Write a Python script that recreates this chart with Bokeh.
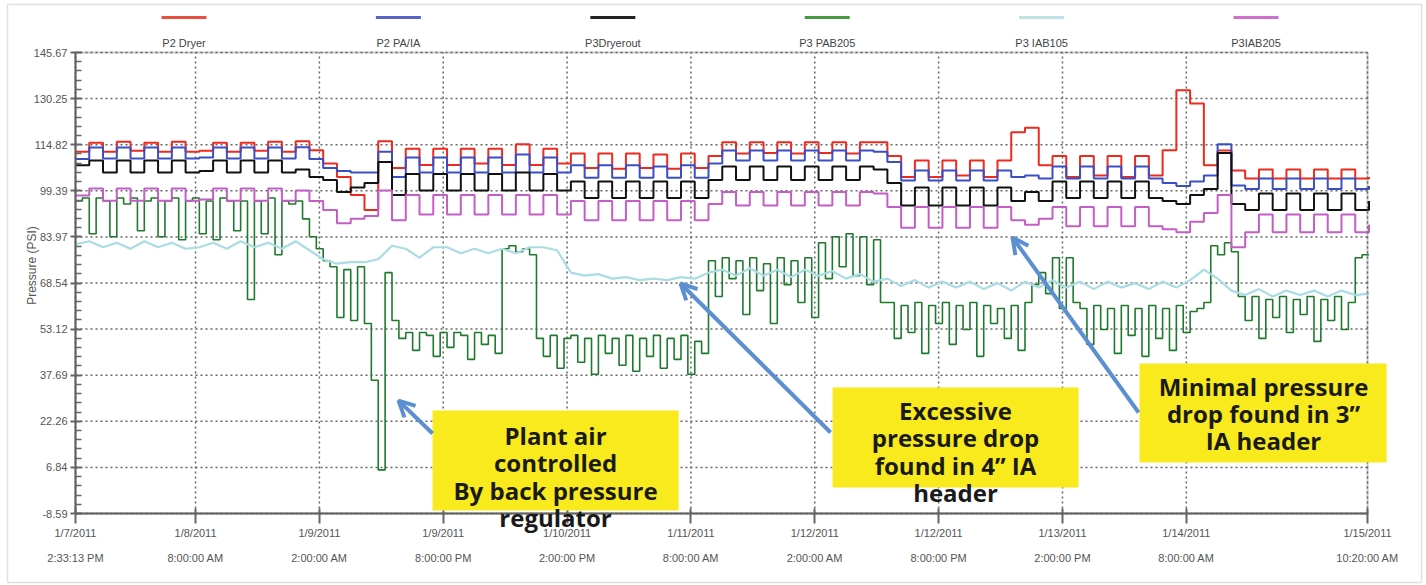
from datetime import datetime
import numpy as np
from bokeh.plotting import figure
from bokeh.models import (Range1d, FixedTicker, PrintfTickFormatter, BoxAnnotation,
                          Label, Arrow, OpenHead)
from bokeh.embed import file_html
from bokeh.resources import INLINE

EPOCH = datetime(1970, 1, 1)


def ms(dt):
    return int(round((dt - EPOCH).total_seconds() * 1000))


START = datetime(2011, 1, 7, 14, 33, 13)
END = datetime(2011, 1, 15, 10, 20, 0)
HOUR = 3600 * 1000
Y_MIN, Y_MAX = -8.59, 145.67

# ---------------- axes ----------------
x_tick_times = [START, datetime(2011, 1, 8, 8), datetime(2011, 1, 9, 2), datetime(2011, 1, 9, 20),
                datetime(2011, 1, 10, 14), datetime(2011, 1, 11, 8), datetime(2011, 1, 12, 2),
                datetime(2011, 1, 12, 20), datetime(2011, 1, 13, 14), datetime(2011, 1, 14, 8), END]
x_tick_labels = ["1/7/2011\n2:33:13 PM", "1/8/2011\n8:00:00 AM", "1/9/2011\n2:00:00 AM",
                 "1/9/2011\n8:00:00 PM", "1/10/2011\n2:00:00 PM", "1/11/2011\n8:00:00 AM",
                 "1/12/2011\n2:00:00 AM", "1/12/2011\n8:00:00 PM", "1/13/2011\n2:00:00 PM",
                 "1/14/2011\n8:00:00 AM", "1/15/2011\n10:20:00 AM"]
y_ticks = [-8.59, 6.84, 22.26, 37.69, 53.12, 68.54, 83.97, 99.39, 114.82, 130.25, 145.67]
y_title = "Pressure (PSI)"

series_names = ["P2 Dryer", "P2 PA/IA", "P3Dryerout", "P3 PAB205", "P3 IAB105", "P3IAB205"]

# ---------------- data (2-hour samples) ----------------
p2_dryer = [112.5, 115.5, 112.5, 115.8, 112.8, 115.5, 112.5, 115.8, 112.5, 112.8,
            115.5, 112.5, 115.5, 112.8, 115.8, 112.5, 116.0, 113.0, 108.5, 104.0,
            98.0, 93.0, 116.0, 107.0, 113.5, 108.0, 113.5, 108.0, 113.5, 108.5,
            113.5, 108.0, 115.0, 108.0, 113.5, 108.5, 111.9, 107.0, 111.9, 106.8,
            111.9, 107.0, 111.5, 106.8, 111.9, 107.0, 111.0, 115.6, 111.9, 115.6,
            112.0, 115.6, 111.9, 115.6, 112.0, 115.6, 111.9, 115.6, 115.6, 111.0,
            104.0, 109.5, 104.0, 109.5, 104.5, 109.5, 104.0, 109.5, 119.0, 120.5,
            107.9, 111.0, 104.0, 111.0, 104.5, 111.0, 104.0, 111.0, 104.5, 113.0,
            133.0, 128.6, 107.9, 112.9, 106.2, 103.5, 106.5, 103.5, 106.5, 103.5,
            106.5, 103.5, 106.5, 103.5, 104.0]
p2_paia = [110.0, 113.9, 110.2, 113.9, 110.2, 113.9, 110.2, 113.9, 110.2, 110.5,
           113.9, 110.2, 113.9, 110.2, 113.9, 110.2, 114.0, 110.0, 107.0, 106.0,
           105.5, 105.5, 112.5, 104.0, 110.5, 105.5, 110.5, 105.5, 110.5, 105.5,
           110.5, 105.5, 111.5, 105.5, 110.5, 105.5, 107.9, 103.8, 107.9, 103.8,
           107.9, 103.8, 107.5, 103.8, 107.9, 103.8, 108.5, 112.9, 109.5, 112.9,
           109.5, 112.9, 109.5, 112.9, 109.5, 112.9, 109.5, 112.9, 112.5, 109.0,
           102.8, 106.2, 102.8, 106.2, 102.8, 106.2, 102.8, 106.2, 104.0, 104.5,
           103.5, 107.5, 103.5, 107.5, 103.5, 107.5, 103.5, 107.5, 103.5, 102.0,
           101.0, 102.5, 104.5, 115.0, 101.2, 100.0, 103.5, 100.0, 103.5, 100.0,
           103.5, 100.0, 103.5, 100.0, 101.0]
p3_dryerout = [107.9, 109.5, 105.5, 109.5, 105.5, 109.5, 105.5, 109.5, 105.5, 106.0,
               109.5, 105.5, 109.5, 105.5, 109.5, 105.5, 106.5, 104.0, 103.0, 99.0,
               100.5, 102.0, 109.0, 98.0, 105.0, 99.5, 105.0, 99.5, 105.0, 99.5,
               105.0, 99.5, 105.5, 99.5, 105.0, 99.5, 102.5, 97.0, 102.5, 97.0,
               102.5, 97.0, 102.5, 97.0, 102.5, 97.0, 103.0, 107.5, 103.0, 107.5,
               103.0, 107.5, 103.0, 107.5, 103.0, 107.5, 103.0, 107.5, 106.5, 102.0,
               94.5, 100.5, 94.5, 100.5, 94.5, 100.5, 94.5, 100.5, 96.0, 99.0,
               96.0, 102.5, 97.0, 102.5, 97.0, 102.5, 97.0, 102.5, 97.0, 96.0,
               95.0, 98.0, 100.0, 112.0, 95.0, 93.0, 98.5, 93.0, 98.5, 93.0,
               98.5, 93.0, 98.5, 93.0, 96.0]
p3_iab205 = [97.8, 100.2, 96.1, 100.2, 96.1, 100.2, 96.1, 100.2, 96.1, 96.5,
             100.2, 96.1, 100.2, 96.1, 100.2, 96.1, 99.5, 96.0, 93.0, 88.5,
             90.0, 91.0, 99.5, 89.5, 98.0, 91.5, 98.0, 91.5, 98.0, 91.5,
             98.0, 91.5, 98.0, 91.5, 98.0, 91.5, 96.0, 89.5, 96.0, 89.5,
             96.0, 89.5, 96.0, 89.5, 96.0, 89.5, 95.0, 99.0, 94.5, 99.0,
             94.5, 99.0, 94.5, 99.0, 94.5, 99.0, 94.5, 99.0, 98.5, 94.0,
             87.0, 94.0, 87.0, 94.0, 87.0, 94.0, 87.0, 94.0, 89.5, 88.0,
             90.0, 94.0, 87.5, 94.0, 87.5, 94.0, 87.5, 94.0, 87.5, 86.5,
             85.5, 89.0, 92.0, 98.0, 80.5, 85.5, 91.5, 85.5, 91.5, 85.5,
             91.5, 85.5, 91.5, 85.5, 88.0]
p3_iab105 = [81.5, 82.5, 80.5, 82.0, 80.0, 82.5, 80.5, 82.0, 80.0, 80.5,
             82.0, 80.0, 82.5, 80.5, 82.0, 80.0, 82.5, 79.5, 76.5, 75.0,
             75.5, 75.5, 76.5, 81.0, 80.0, 77.0, 80.5, 80.5, 78.5, 80.0,
             78.5, 80.0, 78.5, 80.5, 80.5, 79.5, 72.0, 71.0, 71.5, 70.0,
             70.5, 69.5, 70.0, 69.5, 70.5, 70.0, 72.0, 73.0, 71.0, 73.5,
             71.0, 73.0, 70.5, 73.0, 71.0, 72.5, 70.0, 71.5, 69.0, 70.0,
             67.5, 69.5, 67.0, 69.0, 67.0, 69.0, 66.5, 68.5, 66.0, 69.0,
             67.0, 69.5, 67.0, 69.0, 66.5, 69.0, 67.0, 68.5, 66.5, 69.0,
             67.0, 69.5, 73.0, 70.0, 66.0, 64.5, 66.5, 64.0, 66.0, 64.5,
             66.0, 64.0, 66.0, 64.5, 65.0]

# ---------------- data (1-hour samples) ----------------
p3_pab205 = [96, 97, 85, 97, 96, 84, 97, 95,
             97, 86, 96, 97, 84, 96, 97, 83,
             96, 97, 85, 96, 83, 97, 96, 86,
             96, 63, 96, 85, 97, 78, 96, 95,
             96, 90, 84, 80, 76, 74, 57, 73,
             56, 74, 55, 36, 6, 72, 56, 50,
             52, 46, 52, 51, 44, 52, 47, 52,
             51, 43, 52, 48, 51, 45, 80, 81,
             79, 80, 78, 50, 44, 51, 40, 50,
             51, 42, 50, 38, 51, 45, 50, 41,
             51, 39, 50, 44, 51, 40, 50, 43,
             51, 38, 49, 45, 76, 64, 77, 70,
             76, 58, 77, 66, 75, 55, 77, 68,
             76, 62, 77, 57, 82, 70, 84, 74,
             85, 71, 84, 68, 83, 62, 62, 50,
             61, 52, 62, 45, 61, 55, 62, 48,
             61, 53, 62, 44, 61, 55, 60, 50,
             61, 46, 62, 68, 72, 65, 77, 60,
             77, 62, 60, 48, 61, 53, 60, 45,
             61, 51, 60, 44, 61, 50, 60, 46,
             61, 52, 59, 60, 62, 81, 78, 82,
             79, 64, 56, 64, 50, 63, 57, 64,
             52, 63, 58, 64, 49, 63, 56, 64,
             53, 62, 77, 78, 78]

line_colors = ["#ee2a1e", "#3a4ec6", "#111111", "#1f7a2e", "#a9dde3", "#c45ec4"]
legend_colors = ["#e8503f", "#5a62c8", "#222222", "#4a9a44", "#bfe4e8", "#cf70cf"]

t2 = [ms(START) + 2 * HOUR * k for k in range(len(p2_dryer))]
t1 = [ms(START) + HOUR * k for k in range(len(p3_pab205))]


def at(h):
    return ms(START) + h * HOUR


# ---------------- layout: frame fills the canvas, axes placed at fixed locations -------------
W, H = 1426, 585
F_LEFT, F_RIGHT, F_TOP, F_BOTTOM = 75, 1367, 52, 513
xs_per_px = (ms(END) - ms(START)) / (F_RIGHT - F_LEFT)
ys_per_px = (Y_MAX - Y_MIN) / (F_BOTTOM - F_TOP)
x_range = Range1d(ms(START) - F_LEFT * xs_per_px, ms(END) + (W - F_RIGHT) * xs_per_px)
y_range = Range1d(Y_MIN - (H - F_BOTTOM) * ys_per_px, Y_MAX + F_TOP * ys_per_px)

p = figure(width=W, height=H, x_range=x_range, y_range=y_range, output_backend="svg",
           toolbar_location=None, min_border=0, min_border_left=0, min_border_right=0,
           min_border_top=0, min_border_bottom=0,
           background_fill_color="white", border_fill_color="white")
p.outline_line_color = None
p.grid.visible = False

xt = [ms(t) for t in x_tick_times]
minor = []
for a, b in zip(y_ticks[:-1], y_ticks[1:]):
    minor.extend(list(np.linspace(a, b, 6)[1:-1]))

xa = p.xaxis[0]
ya = p.yaxis[0]
xa.fixed_location = Y_MIN
xa.bounds = (ms(START), ms(END))
ya.fixed_location = ms(START)
ya.bounds = (Y_MIN, Y_MAX)
xa.ticker = FixedTicker(ticks=xt)
xa.major_label_overrides = {k: v for k, v in zip(xt, x_tick_labels)}
ya.ticker = FixedTicker(ticks=y_ticks, minor_ticks=minor)
ya.formatter = PrintfTickFormatter(format="%.2f")

for ax in (xa, ya):
    ax.axis_line_color = "#666666"
    ax.axis_line_width = 2
    ax.major_tick_line_color = "#666666"
    ax.major_tick_line_width = 2
    ax.minor_tick_line_color = "#666666"
    ax.minor_tick_line_width = 1.5
    ax.major_label_text_font = "Liberation Sans"
    ax.major_label_text_font_size = "11px"
    ax.major_label_text_color = "#555555"

xa.major_tick_in = 5
xa.major_tick_out = 10
xa.minor_tick_in = 0
xa.minor_tick_out = 0
xa.major_label_standoff = 3
xa.major_label_text_line_height = 2.1

ya.major_tick_in = 6
ya.major_tick_out = 5
ya.minor_tick_in = 6
ya.minor_tick_out = 0
ya.major_label_standoff = 3

# y-axis title
p.add_layout(Label(x=at(-6.25), y=74.4, text=y_title, angle=90, angle_units="deg",
                   text_align="center", text_baseline="middle", text_font="Liberation Sans",
                   text_font_size="12px", text_color="#555555"))

# dotted grid at the tick positions
grid_kw = dict(line_color="#666666", line_dash="2 3", line_width=1.5)
p.segment(x0=xt, y0=[Y_MIN] * len(xt), x1=xt, y1=[Y_MAX] * len(xt), **grid_kw)
p.segment(x0=[ms(START)] * len(y_ticks), y0=y_ticks, x1=[ms(END)] * len(y_ticks), y1=y_ticks,
          **grid_kw)

# ---------------- series ----------------
p.step(t2, p2_dryer, mode="after", line_color=line_colors[0], line_width=2)
p.step(t2, p2_paia, mode="after", line_color=line_colors[1], line_width=2)
p.step(t2, p3_dryerout, mode="after", line_color=line_colors[2], line_width=2)
p.step(t1, p3_pab205, mode="after", line_color=line_colors[3], line_width=1.6)
p.line(t2, p3_iab105, line_color=line_colors[4], line_width=2.2)
p.step(t2, p3_iab205, mode="after", line_color=line_colors[5], line_width=2)

# plot frame (top & right edges)
p.add_layout(BoxAnnotation(left=ms(START), right=ms(END), bottom=Y_MIN, top=Y_MAX,
                           fill_color=None, line_color="#555555", line_width=2))

# ---------------- legend across the top ----------------
legend_centers_h = [15.77, 46.93, 78.10, 109.26, 140.42, 171.58]
for name, col, c in zip(series_names, legend_colors, legend_centers_h):
    p.add_layout(Arrow(end=None, x_start=at(c - 3.27), x_end=at(c + 3.27), y_start=157.4,
                       y_end=157.4, line_color=col, line_width=3))
    p.add_layout(Label(x=at(c), y=149.0, text=name, text_align="center", text_baseline="middle",
                       text_font="Liberation Sans", text_font_size="11px",
                       text_color="#444444"))

# outer frame
p.add_layout(BoxAnnotation(left=at(-9.88), right=at(195.64), top=161.73, bottom=-31.68,
                           fill_color=None, line_color="#9a9a9a", line_width=1.5))

# ---------------- annotations ----------------
yellow = "#f8ea1c"
boxes = [(51.89, 87.65, 25.87, -7.59), (110.03, 145.78, 33.57, 0.11), (154.65, 190.55, 41.6, 8.48)]
for l, r, t, b in boxes:
    p.add_layout(BoxAnnotation(left=at(l), right=at(r), top=t, bottom=b, fill_color=yellow,
                               fill_alpha=1.0, line_color=None))

notes = [(69.77, 3.79, "Plant air\ncontrolled\nBy back pressure\nregulator"),
         (127.9, 12.16, "Excessive\npressure drop\nfound in 4\u201d IA\nheader"),
         (172.67, 24.87, "Minimal pressure\ndrop found in 3\u201d\nIA header")]
for h, v, txt in notes:
    p.add_layout(Label(x=at(h), y=v, text=txt, text_align="center", text_baseline="middle",
                       text_font="Open Sans", text_font_style="bold", text_font_size="24px",
                       text_color="#1a1a1a", text_line_height=0.83))

arrow_blue = "#5b8fd2"
arrows = [(51.89, 18.18, 46.95, 29.2), (109.74, 18.51, 87.94, 68.37), (154.51, 25.2, 136.19, 83.77)]
for xs, ys, xe, ye in arrows:
    p.add_layout(Arrow(end=OpenHead(size=16, line_color=arrow_blue, line_width=4),
                       x_start=at(xs), y_start=ys, x_end=at(xe), y_end=ye,
                       line_color=arrow_blue, line_width=4))

open("out.html", "w").write(file_html(p, INLINE))
